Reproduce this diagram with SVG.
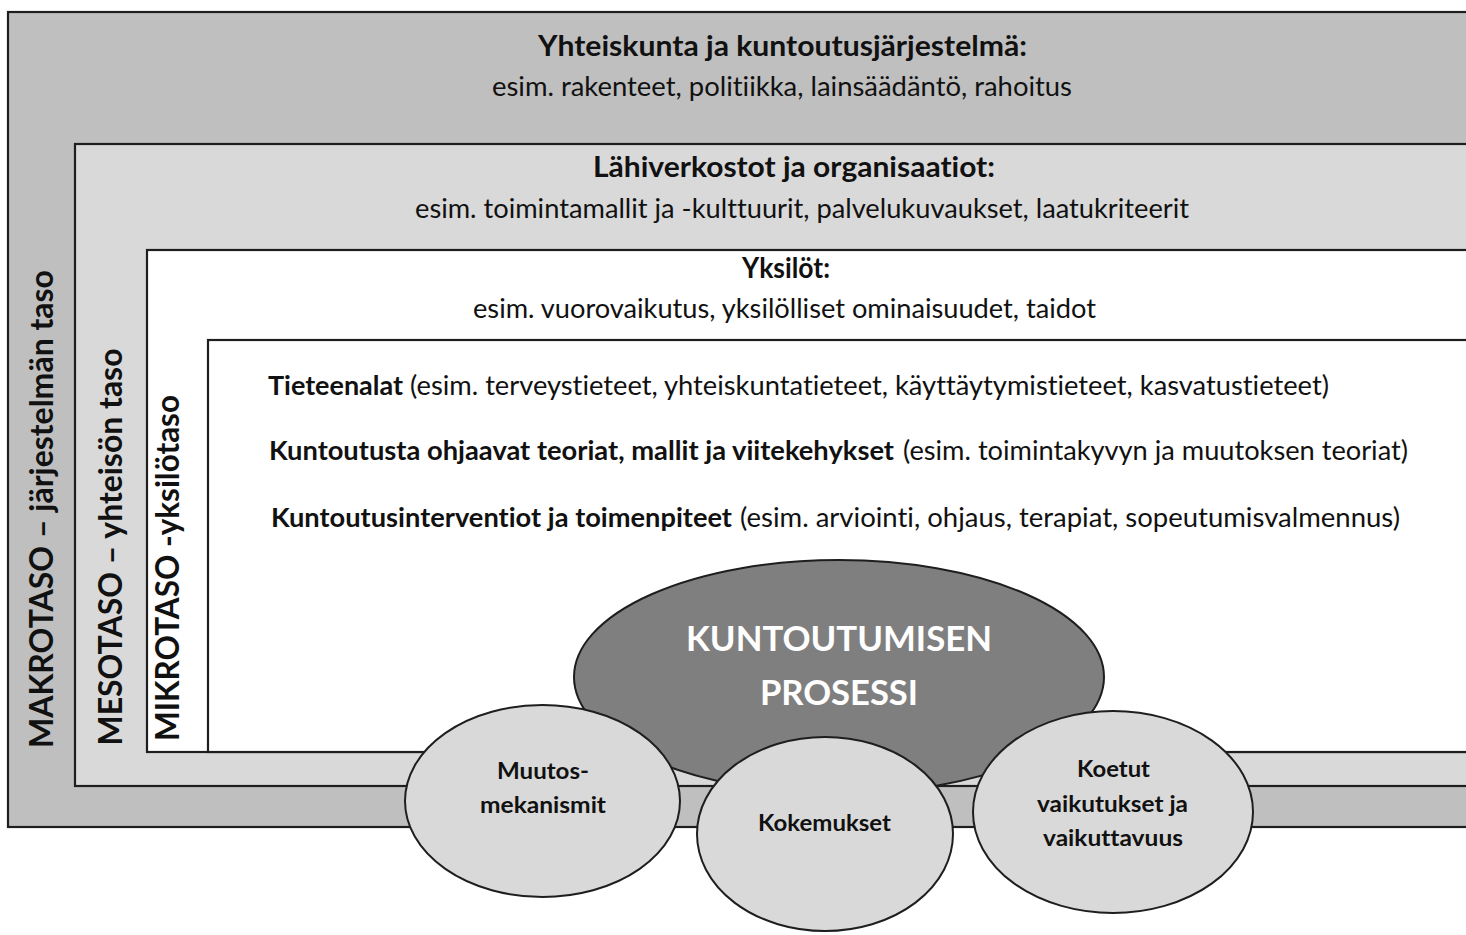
<svg xmlns="http://www.w3.org/2000/svg" width="1466" height="935" viewBox="0 0 1466 935">
<style>
.frame{stroke:#1e1e1e;stroke-width:2.2}
.t{font-family:Lato,"Liberation Sans",sans-serif;fill:#111;font-variant-ligatures:none;font-feature-settings:"liga" 0,"clig" 0,"dlig" 0}
.b{font-weight:bold}
.r{font-weight:normal}
.mid{text-anchor:middle}
.body{font-size:26px}
.title{font-size:28px}
.vert{font-size:32px;font-weight:bold}
.ell{stroke:#1e1e1e;stroke-width:2}
.small{font-size:23px;font-weight:bold}
</style>
<rect x="0" y="0" width="1466" height="935" fill="#ffffff"/>
<g id="makro">
<rect class="frame" x="8" y="12" width="1470" height="815" fill="#bfbfbf"/>
<text class="t title b mid" x="782.5" y="56" textLength="489" lengthAdjust="spacingAndGlyphs">Yhteiskunta ja kuntoutusjärjestelmä:</text>
<text class="t body r mid" x="782" y="96" textLength="580" lengthAdjust="spacingAndGlyphs">esim. rakenteet, politiikka, lainsäädäntö, rahoitus</text>
<text class="t vert" text-anchor="middle" transform="translate(53,509) rotate(-90)" textLength="478" lengthAdjust="spacingAndGlyphs">MAKROTASO – järjestelmän taso</text>
</g>
<g id="meso">
<rect class="frame" x="75" y="144" width="1400" height="642" fill="#d9d9d9"/>
<text class="t title b mid" x="794" y="177" textLength="402" lengthAdjust="spacingAndGlyphs">Lähiverkostot ja organisaatiot:</text>
<text class="t body r mid" x="802" y="218" textLength="774" lengthAdjust="spacingAndGlyphs">esim. toimintamallit ja -kulttuurit, palvelukuvaukset, laatukriteerit</text>
<text class="t vert" text-anchor="middle" transform="translate(122,547) rotate(-90)" textLength="397" lengthAdjust="spacingAndGlyphs">MESOTASO – yhteisön taso</text>
</g>
<g id="mikro">
<rect class="frame" x="147" y="250" width="1330" height="502" fill="#ffffff"/>
<text class="t title b mid" x="786" y="278" textLength="88" lengthAdjust="spacingAndGlyphs">Yksilöt:</text>
<text class="t body r mid" x="784.5" y="318" textLength="623" lengthAdjust="spacingAndGlyphs">esim. vuorovaikutus, yksilölliset ominaisuudet, taidot</text>
<text class="t vert" text-anchor="middle" transform="translate(179,568) rotate(-90)" textLength="346" lengthAdjust="spacingAndGlyphs">MIKROTASO -yksilötaso</text>
</g>
<g id="sisalto">
<rect class="frame" x="208" y="340" width="1270" height="412" fill="#ffffff"/>
<text class="t body b" x="268" y="395" textLength="135" lengthAdjust="spacingAndGlyphs">Tieteenalat</text>
<text class="t body r" x="410" y="395" textLength="919" lengthAdjust="spacingAndGlyphs">(esim. terveystieteet, yhteiskuntatieteet, käyttäytymistieteet, kasvatustieteet)</text>
<text class="t body b" x="269" y="460" textLength="625" lengthAdjust="spacingAndGlyphs">Kuntoutusta ohjaavat teoriat, mallit ja viitekehykset</text>
<text class="t body r" x="903" y="460" textLength="505" lengthAdjust="spacingAndGlyphs">(esim. toimintakyvyn ja muutoksen teoriat)</text>
<text class="t body b" x="271" y="527" textLength="461" lengthAdjust="spacingAndGlyphs">Kuntoutusinterventiot ja toimenpiteet</text>
<text class="t body r" x="740" y="527" textLength="660" lengthAdjust="spacingAndGlyphs">(esim. arviointi, ohjaus, terapiat, sopeutumisvalmennus)</text>
</g>
<g id="connectors"></g>
<g id="prosessi">
<ellipse class="ell" cx="839" cy="677" rx="265" ry="117" fill="#7f7f7f"/>
<text class="t b mid" x="839" y="651" font-size="34" style="fill:#ffffff" textLength="306" lengthAdjust="spacingAndGlyphs">KUNTOUTUMISEN</text>
<text class="t b mid" x="839" y="705" font-size="34" style="fill:#ffffff" textLength="158" lengthAdjust="spacingAndGlyphs">PROSESSI</text>
</g>
<g id="muutosmekanismit">
<ellipse class="ell" cx="542.5" cy="801" rx="137.5" ry="96" fill="#d9d9d9"/>
<text class="t small mid" x="543" y="779" textLength="92" lengthAdjust="spacingAndGlyphs">Muutos-</text>
<text class="t small mid" x="543" y="813" textLength="126" lengthAdjust="spacingAndGlyphs">mekanismit</text>
</g>
<g id="kokemukset">
<ellipse class="ell" cx="825" cy="834" rx="128" ry="97" fill="#d9d9d9"/>
<text class="t small mid" x="824.5" y="831" textLength="133" lengthAdjust="spacingAndGlyphs">Kokemukset</text>
</g>
<g id="koetut">
<ellipse class="ell" cx="1113" cy="812" rx="140" ry="101" fill="#d9d9d9"/>
<text class="t small mid" x="1113.5" y="777" textLength="73" lengthAdjust="spacingAndGlyphs">Koetut</text>
<text class="t small mid" x="1112.5" y="812" textLength="151" lengthAdjust="spacingAndGlyphs">vaikutukset ja</text>
<text class="t small mid" x="1113" y="846" textLength="140" lengthAdjust="spacingAndGlyphs">vaikuttavuus</text>
</g>
</svg>
